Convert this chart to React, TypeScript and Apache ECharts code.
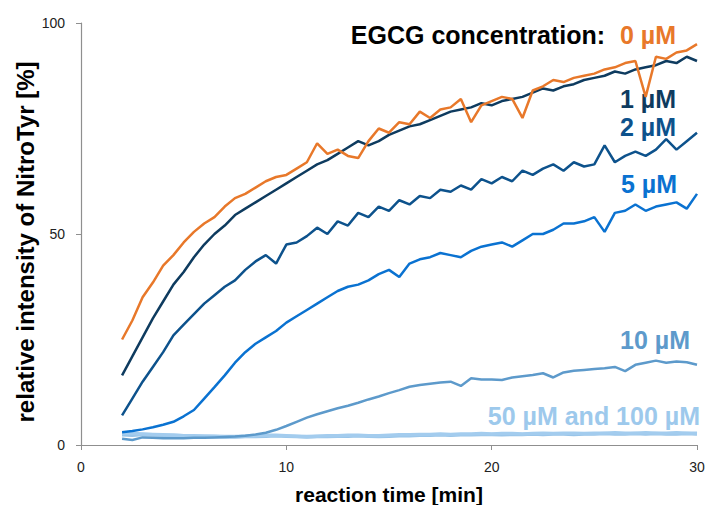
import React, { useEffect, useRef } from "react";
import * as echarts from "echarts";

const times = [2, 2.5, 3, 3.5, 4, 4.5, 5, 5.5, 6, 6.5, 7, 7.5, 8, 8.5, 9, 9.5, 10, 10.5, 11, 11.5, 12, 12.5, 13, 13.5, 14, 14.5, 15, 15.5, 16, 16.5, 17, 17.5, 18, 18.5, 19, 19.5, 20, 20.5, 21, 21.5, 22, 22.5, 23, 23.5, 24, 24.5, 25, 25.5, 26, 26.5, 27, 27.5, 28, 28.5, 29, 29.5, 30];

const xTicks = [0, 10, 20, 30];
const yTicks = [0, 50, 100];

const c0 = [25, 29.5, 35, 38.5, 42.5, 45, 48, 50.5, 52.5, 54, 56.5, 58.5, 59.5, 61, 62.5, 63.5, 64, 65.5, 67, 71.5, 69, 70, 68.5, 68, 72, 75, 74, 76.5, 76, 79, 77.5, 79.5, 80, 82, 76.5, 80.5, 81.5, 82.5, 82, 77.5, 84, 85, 86.5, 86, 87, 87.5, 88, 89, 89.5, 90.5, 91, 82.5, 92, 91.5, 93, 93.5, 95];
const c1 = [16.5, 21, 25.5, 30, 34, 38, 41, 44.5, 47.5, 50, 52, 54.5, 56, 57.5, 59, 60.5, 62, 63.5, 65, 66.5, 67.5, 69, 70.5, 72, 71, 72, 73.5, 74.5, 75.5, 76, 77, 78, 79, 79.5, 80, 81, 80.5, 81.5, 82, 82.5, 83.5, 84.5, 84, 85, 85.5, 86.5, 87, 87.5, 88.5, 88, 89, 89.5, 90, 91, 90.5, 92, 91];
const c2 = [7, 11, 15, 18.5, 22, 26, 28.5, 31, 33.5, 35.5, 37.5, 39, 41.5, 43.5, 45, 43, 47.5, 48, 49.5, 51.5, 50, 53, 52, 55, 54, 56.5, 55.5, 58, 57, 59, 58.5, 60.5, 60, 61.5, 60.5, 63, 62, 63.5, 62.5, 65, 64, 65.5, 66.5, 65, 67, 66, 66.5, 71, 67, 68.5, 69.5, 68.5, 70, 72.5, 70, 72, 74];
const c5 = [3, 3.3, 3.7, 4.2, 4.8, 5.5, 6.8, 8.3, 11, 13.7, 16.5, 19.5, 22, 24, 25.5, 27, 29, 30.5, 32, 33.5, 35, 36.5, 37.5, 38, 39, 40.5, 41.5, 39.8, 43, 44, 44.5, 45.5, 45, 44.5, 46, 47, 47.5, 48, 47, 48.5, 50, 50, 51, 52.5, 52.5, 53, 54, 50.5, 55, 55.5, 57, 55.5, 56.5, 57, 57.5, 56, 59.5];
const c10 = [1.5, 1.2, 1.8, 1.7, 1.6, 1.6, 1.6, 1.7, 1.7, 1.8, 1.9, 2.0, 2.2, 2.5, 2.9, 3.6, 4.5, 5.5, 6.5, 7.3, 8, 8.7, 9.3, 10, 10.8, 11.5, 12.3, 13, 13.8, 14.2, 14.5, 14.8, 15, 14, 15.8, 15.5, 15.5, 15.4, 16, 16.3, 16.6, 17, 16, 17.2, 17.6, 17.8, 18, 18.2, 18.5, 17.5, 19, 19.5, 20, 19.5, 19.8, 19.6, 19];
const c50 = [2.8, 2.7, 2.6, 2.5, 2.4, 2.3, 2.2, 2.2, 2.1, 2.1, 2.0, 2.0, 2.1, 2.2, 2.3, 2.3, 2.2, 2.1, 2.0, 2.1, 2.2, 2.2, 2.3, 2.3, 2.2, 2.2, 2.3, 2.4, 2.4, 2.5, 2.5, 2.6, 2.5, 2.6, 2.6, 2.7, 2.6, 2.7, 2.7, 2.6, 2.7, 2.8, 2.7, 2.8, 2.8, 2.7, 2.8, 2.8, 2.9, 2.8, 2.8, 2.9, 2.8, 2.8, 2.9, 2.8, 2.8];
const c100 = [2.4, 2.3, 2.5, 2.4, 2.3, 2.3, 2.2, 2.1, 2.1, 2.0, 1.9, 1.9, 2.0, 2.0, 2.1, 2.2, 2.1, 2.0, 1.9, 2.0, 2.0, 2.1, 2.1, 2.2, 2.1, 2.0, 2.1, 2.2, 2.2, 2.3, 2.3, 2.4, 2.3, 2.4, 2.4, 2.5, 2.5, 2.4, 2.5, 2.5, 2.6, 2.5, 2.6, 2.6, 2.5, 2.6, 2.6, 2.7, 2.6, 2.6, 2.7, 2.6, 2.7, 2.6, 2.6, 2.7, 2.6];

const seriesNames = ["0 µM", "1 µM", "2 µM", "5 µM", "10 µM", "50 µM", "100 µM"];
const seriesValues = [c0, c1, c2, c5, c10, c50, c100];
const seriesColors = ["#E8782A", "#0E3B5F", "#0D528C", "#0A72D1", "#5D9ACB", "#A3CCEE", "#98C4E8"];
const seriesWidths = [2.5, 2.5, 2.5, 2.5, 2.5, 3.5, 3.5];

const FONT = "'Liberation Sans', Arial, Helvetica, sans-serif";
const LABEL_FONT = `bold 25px ${FONT}`;

export default function App() {
  const ref = useRef<HTMLDivElement>(null);
  useEffect(() => {
    if (!ref.current) return;
    const chart = echarts.init(ref.current, null, { renderer: "svg" });
    const axisGray = "#8f8f8f";
    const lbl = (text: string, x: number, y: number, fill: string) => ({
      type: "text",
      x,
      y,
      style: { text, fill, font: LABEL_FONT, align: "right", verticalAlign: "middle" },
    });
    chart.setOption({
      animation: false,
      backgroundColor: "#ffffff",
      textStyle: { fontFamily: FONT },
      grid: { left: 81, right: 10, top: 23, bottom: 60, containLabel: false, outerBoundsMode: "none" },
      xAxis: {
        type: "value",
        min: 0,
        max: 30,
        interval: 10,
        name: "reaction time [min]",
        nameLocation: "middle",
        nameGap: 39,
        nameTextStyle: { fontSize: 21, fontWeight: "bold", color: "#000", fontFamily: FONT },
        axisLine: { show: true, lineStyle: { color: axisGray, width: 1.2 } },
        axisTick: { show: true, length: 5, lineStyle: { color: axisGray } },
        axisLabel: {
          fontSize: 14,
          color: "#222",
          margin: 15,
          formatter: (v: number) => (xTicks.includes(v) ? String(v) : ""),
        },
        splitLine: { show: false },
      },
      yAxis: {
        type: "value",
        min: 0,
        max: 100,
        interval: 50,
        axisLine: { show: true, lineStyle: { color: axisGray, width: 1.2 } },
        axisTick: { show: true, length: 5, lineStyle: { color: axisGray } },
        axisLabel: {
          fontSize: 14,
          color: "#222",
          margin: 16,
          formatter: (v: number) => (yTicks.includes(v) ? String(v) : ""),
        },
        splitLine: { show: false },
      },
      series: seriesValues
        .map((vals, i) => ({
          name: seriesNames[i],
          type: "line",
          data: vals.map((v, j) => [times[j], v]),
          showSymbol: false,
          symbol: "none",
          smooth: false,
          lineStyle: { color: seriesColors[i], width: seriesWidths[i] },
          z: 10 - i,
        }))
        .reverse(),
      graphic: [
        {
          type: "text",
          x: 25,
          y: 242,
          rotation: Math.PI / 2,
          style: {
            text: "relative intensity of NitroTyr [%]",
            fill: "#000",
            font: `bold 24px ${FONT}`,
            align: "center",
            verticalAlign: "middle",
          },
        },
        lbl("EGCG concentration:", 605, 35, "#000"),
        lbl("0 µM", 676, 35, "#E8782A"),
        lbl("1 µM", 676, 98.5, "#0E3B5F"),
        lbl("2 µM", 676, 127, "#0D528C"),
        lbl("5 µM", 677, 183.5, "#0A72D1"),
        lbl("10 µM", 690, 340, "#5D9ACB"),
        lbl("50 µM and 100 µM", 700, 415.5, "#9DC9EC"),
      ],
    });
    return () => chart.dispose();
  }, []);
  return <div ref={ref} style={{ width: 707, height: 505, position: "absolute", left: 0, top: 0 }} />;
}
